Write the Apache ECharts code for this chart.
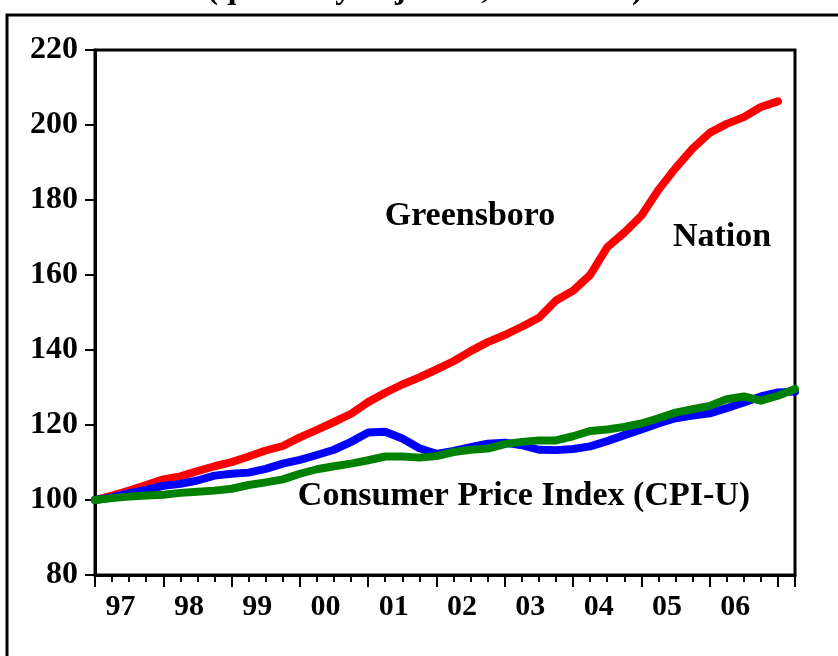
<!DOCTYPE html>
<html>
<head>
<meta charset="utf-8">
<script src="https://cdn.jsdelivr.net/npm/echarts@6/dist/echarts.min.js"></script>
<style>
  html, body { margin: 0; padding: 0; background: #fff; }
  #chart { width: 838px; height: 656px; }
</style>
</head>
<body>
<div id="chart"></div>
<script>
// quarter categories, 1997Q1 .. 2007Q2
const quarters = [
  '97Q1', '97Q2', '97Q3', '97Q4', '98Q1', '98Q2', '98Q3', '98Q4',
  '99Q1', '99Q2', '99Q3', '99Q4', '00Q1', '00Q2', '00Q3', '00Q4',
  '01Q1', '01Q2', '01Q3', '01Q4', '02Q1', '02Q2', '02Q3', '02Q4',
  '03Q1', '03Q2', '03Q3', '03Q4', '04Q1', '04Q2', '04Q3', '04Q4',
  '05Q1', '05Q2', '05Q3', '05Q4', '06Q1', '06Q2', '06Q3', '06Q4',
  '07Q1', '07Q2'
];
const yTicks = [80, 100, 120, 140, 160, 180, 200, 220];

// red line (ends one quarter earlier)
const nation = [
  100, 101.2, 102.5, 104.0, 105.5, 106.3, 107.7, 109.0, 110.1, 111.6,
  113.2, 114.4, 116.7, 118.7, 120.8, 123.0, 126.1, 128.6, 130.8, 132.7,
  134.8, 137.0, 139.7, 142.1, 144.0, 146.2, 148.6, 153.2, 155.8, 160.0,
  167.4, 171.3, 175.8, 182.7, 188.5, 193.7, 197.9, 200.3, 202.1, 204.8,
  206.3
];
// blue line
const greensboro = [
  100, 100.7, 101.8, 102.7, 103.8, 104.3, 105.2, 106.5, 107.0, 107.3,
  108.3, 109.7, 110.7, 112.0, 113.4, 115.5, 118.0, 118.2, 116.4, 113.8,
  112.3, 113.1, 114.1, 115.0, 115.3, 114.6, 113.4, 113.3, 113.6, 114.3,
  115.7, 117.3, 118.8, 120.4, 121.8, 122.5, 123.1, 124.5, 126.0, 127.6,
  128.7, 128.9
];
// green line
const cpiU = [
  100, 100.5, 100.9, 101.2, 101.4, 101.9, 102.2, 102.5, 103.0, 104.0,
  104.7, 105.5, 107.0, 108.2, 109.0, 109.7, 110.6, 111.6, 111.6, 111.3,
  111.7, 112.8, 113.4, 113.7, 114.9, 115.5, 115.9, 115.9, 117.0, 118.4,
  118.8, 119.5, 120.4, 121.8, 123.3, 124.2, 125.1, 126.9, 127.6, 126.5,
  127.8, 129.6
];

const FONT = "'Liberation Serif', 'Times New Roman', serif";
const bands = quarters.slice(0, quarters.length - 1);

const chart = echarts.init(document.getElementById('chart'), null, { renderer: 'canvas' });

const lineSeries = (name, data, color) => ({
  name: name,
  type: 'line',
  xAxisIndex: 0,
  data: data,
  showSymbol: false,
  symbol: 'none',
  lineStyle: { color: color, width: 8, join: 'round', cap: 'round' },
  silent: true,
  animation: false
});

const note = (text, x, y) => ({
  type: 'text', silent: true, x: x, y: y,
  style: { text: text, align: 'center', verticalAlign: 'middle', font: 'bold 34px ' + FONT, fill: '#000' }
});

chart.setOption({
  animation: false,
  backgroundColor: '#fff',
  grid: {
    left: 95, top: 50, right: 43, bottom: 81,
    show: true, borderColor: '#000', borderWidth: 3, backgroundColor: 'transparent'
  },
  xAxis: [
    { type: 'category', data: quarters, boundaryGap: false, show: false },
    {
      type: 'category', data: bands, boundaryGap: true, position: 'bottom',
      axisLine: { show: true, lineStyle: { color: '#000', width: 3 } },
      axisTick: { show: true, interval: 0, length: 7, lineStyle: { color: '#000', width: 2 } },
      axisLabel: {
        interval: (i) => i % 4 === 1,
        formatter: (v) => v.slice(0, 2),
        margin: 17, color: '#000', fontFamily: FONT, fontWeight: 'bold', fontSize: 30
      },
      splitLine: { show: false }
    },
    {
      type: 'category', data: bands, boundaryGap: true, position: 'bottom',
      axisLine: { show: false },
      axisTick: { show: true, interval: (i) => i % 4 === 0, length: 12, lineStyle: { color: '#000', width: 2 } },
      axisLabel: { show: false },
      splitLine: { show: false }
    }
  ],
  yAxis: {
    type: 'value', min: yTicks[0], max: yTicks[yTicks.length - 1], interval: 20,
    axisLine: { show: true, lineStyle: { color: '#000', width: 3 } },
    axisTick: { show: true, length: 10, lineStyle: { color: '#000', width: 2 } },
    axisLabel: { margin: 17, color: '#000', fontFamily: FONT, fontWeight: 'bold', fontSize: 32 },
    splitLine: { show: false }
  },
  series: [
    lineSeries('Nation', nation, '#ff0000'),
    lineSeries('Greensboro', greensboro, '#0000ff'),
    lineSeries('CPI-U', cpiU, '#008000')
  ],
  graphic: [
    {
      type: 'rect', silent: true,
      shape: { x: 7, y: 15, width: 900, height: 700 },
      style: { fill: 'none', stroke: '#000', lineWidth: 3 }
    },
    {
      type: 'text', silent: true, x: 425, y: -27,
      style: {
        text: '(quarterly adjusted, 1997=100)', align: 'center', verticalAlign: 'top',
        font: 'bold 33px ' + FONT, fill: '#000'
      }
    },
    note('Greensboro', 470, 216),
    note('Nation', 722, 237),
    note('Consumer Price Index (CPI-U)', 524, 496)
  ]
});
</script>
</body>
</html>
